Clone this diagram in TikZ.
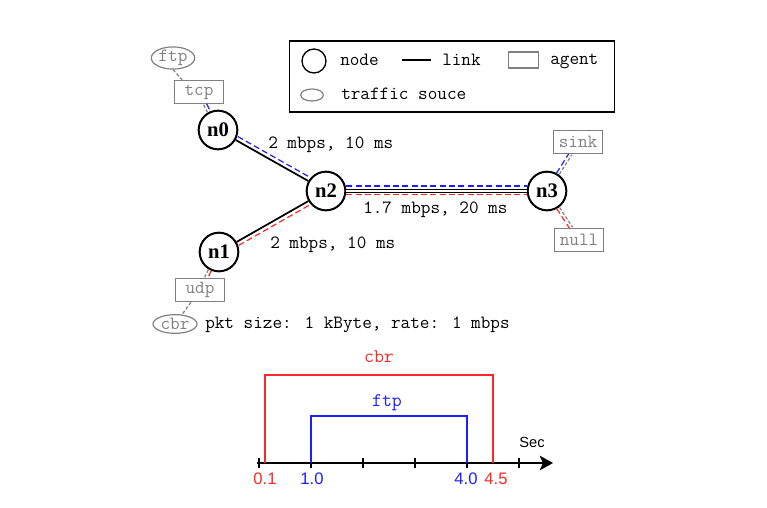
\documentclass[tikz,border=0pt]{standalone}
\usepackage{fontspec}
\setmainfont{Liberation Serif}
\newfontfamily\nodef{Liberation Serif}
\newfontfamily\sansf{Liberation Sans}
\usetikzlibrary{arrows.meta,calc,shapes.geometric}
\definecolor{agray}{RGB}{128,128,128}
\definecolor{lred}{RGB}{250,40,40}
\definecolor{lblue}{RGB}{30,30,250}
\begin{document}
\begin{tikzpicture}[x=0.75pt,y=-0.75pt,
  netnode/.style={circle,draw,line width=1.5pt,minimum size=29pt,inner sep=0pt,font=\nodef\bfseries\fontsize{15.5}{17}\selectfont},
  agentbox/.style={draw=agray,text=agray,line width=0.9pt,minimum width=36.5pt,minimum height=17.5pt,inner sep=0pt,font=\ttfamily\fontsize{14}{16}\selectfont},
  srcell/.style={ellipse,draw=agray,text=agray,line width=0.9pt,minimum width=32.5pt,minimum height=14pt,inner sep=0pt,font=\ttfamily\fontsize{14}{16}\selectfont},
  mtext/.style={inner sep=0pt,font=\ttfamily\fontsize{14}{16}\selectfont},
  link/.style={line width=1.3pt},
  bflow/.style={lblue,line width=0.9pt,dash pattern=on 4.5pt off 2.5pt},
  rflow/.style={lred,line width=0.9pt,dash pattern=on 4.5pt off 2.5pt},
  gflow/.style={agray,line width=0.9pt,dash pattern=on 2.5pt off 1.5pt},
  tl/.style={line width=1.1pt},
  tlab/.style={inner sep=0pt,font=\sansf\fontsize{12.5}{14}\selectfont}
]
\useasboundingbox (0,0) rectangle (767,507);

% legend
\node[draw,line width=1.1pt,minimum width=244pt,minimum height=53pt,inner sep=0pt] (legend) at (452,76.5) {};
\node[circle,draw,line width=1pt,minimum size=18pt,inner sep=0pt] (lgnode) at (314,61) {};
\node[mtext,anchor=base west] (lgnodet) at (340,65) {node};
\coordinate (lgl1) at (402,60);
\coordinate (lgl2) at (431,60);
\draw[line width=1pt] (lgl1) -- (lgl2);
\node[mtext,anchor=base west] (lglinkt) at (442,65) {link};
\node[draw=agray,line width=0.9pt,minimum width=23pt,minimum height=12pt,inner sep=0pt] (lgagent) at (523.5,60) {};
\node[mtext,anchor=base west] (lgagentt) at (550,64) {agent};
\node[ellipse,draw=agray,line width=0.9pt,minimum width=17pt,minimum height=9pt,inner sep=0pt] (lgsrc) at (312,95) {};
\node[mtext,anchor=base west] (lgsrct) at (341,99) {traffic souce};

% network nodes
\node[netnode] (n0) at (218,130) {n0};
\node[netnode] (n1) at (219,252) {n1};
\node[netnode] (n2) at (326,191) {n2};
\node[netnode] (n3) at (547,191) {n3};

% agents and sources
\node[srcell] (ftp) at (173,58) {ftp};
\node[agentbox] (tcp) at (199,92) {tcp};
\node[agentbox] (udp) at (200,290) {udp};
\node[srcell,minimum width=33pt] (cbr) at (175,324) {cbr};
\node[agentbox] (sink) at (578,142) {sink};
\node[agentbox] (null) at (579,240) {null};

% links
\draw[link] (n0) -- (n2);
\draw[bflow,transform canvas={shift={(2,-3.5)}}] (n0) -- (n2);
\draw[link] (n1) -- (n2);
\draw[rflow,transform canvas={shift={(2,3.5)}}] (n1) -- (n2);
\draw[line width=0.9pt,double,double distance=1pt] (n2) -- (n3);
\draw[bflow,transform canvas={shift={(0,-5)}}] (n2) -- (n3);
\draw[rflow,transform canvas={shift={(0,3.5)}}] (n2) -- (n3);

% agent connections
\draw[gflow] (ftp.south) -- ([xshift=6]tcp.north west);
\draw[gflow,transform canvas={shift={(-1.5,0.5)}}] (tcp) -- (n0);
\draw[bflow,transform canvas={shift={(1.5,-0.5)}}] (tcp) -- (n0);
\draw[gflow,transform canvas={shift={(-1.5,-0.5)}}] (n1) -- (udp);
\draw[rflow,transform canvas={shift={(1.5,0.5)}}] (n1) -- (udp);
\draw[gflow] (udp) -- (cbr);
\draw[gflow,transform canvas={shift={(1.5,0.5)}}] (n3) -- (sink);
\draw[bflow,transform canvas={shift={(-1.5,-0.5)}}] (n3) -- (sink);
\draw[gflow,transform canvas={shift={(1.5,-0.5)}}] (n3) -- (null);
\draw[rflow,transform canvas={shift={(-1.5,0.5)}}] (n3) -- (null);

% labels
\node[mtext,anchor=base west] (l02) at (268,148) {2 mbps, 10 ms};
\node[mtext,anchor=base west] (l23) at (363,213) {1.7 mbps, 20 ms};
\node[mtext,anchor=base west] (l12) at (270,248) {2 mbps, 10 ms};
\node[mtext,anchor=base west] (lpkt) at (205,328) {pkt size: 1 kByte, rate: 1 mbps};

% timeline
\coordinate (ax0) at (257,463);
\coordinate (ax1) at (553,463);
\draw[tl,-{Stealth[length=10pt,width=11pt,inset=2.5pt]}] (ax0) -- (ax1);
\foreach \k in {0,...,5}{
  \draw[tl] (259+52*\k,458) -- (259+52*\k,468);
}
\draw[lred,tl] (265,463) -- (265,375) -- (493,375) -- (493,463);
\draw[lblue,tl] (311,463) -- (311,416) -- (467,416) -- (467,463);
\node[mtext,text=lred,font=\ttfamily\fontsize{14.5}{16}\selectfont] (tcbr) at (379,357) {cbr};
\node[mtext,text=lblue,font=\ttfamily\fontsize{14.5}{16}\selectfont] (tftp) at (387,403) {ftp};
\node[tlab,font=\sansf\fontsize{11}{13}\selectfont] (tsec) at (532,442) {Sec};
\node[tlab,text=lred] (t01) at (265,479) {0.1};
\node[tlab,text=lblue] (t10) at (312,479) {1.0};
\node[tlab,text=lblue] (t40) at (466,479) {4.0};
\node[tlab,text=lred] (t45) at (496,479) {4.5};
\end{tikzpicture}
\end{document}
